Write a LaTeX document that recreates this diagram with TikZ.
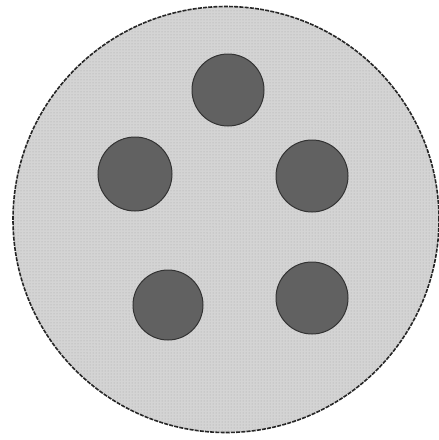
\documentclass[tikz,border=0pt]{standalone}
\usetikzlibrary{patterns}
\begin{document}
\begin{tikzpicture}[x=1pt,y=-1pt,
  plate/.style={circle,inner sep=0pt,minimum size=426pt,fill=black!17,draw=black!85,line width=1.6pt,dash pattern=on 4pt off 1.2pt},
  spot/.style={circle,inner sep=0pt,minimum size=72pt,fill=black!62,draw=black!80,line width=1pt}]
\useasboundingbox (0,0) rectangle (439,440);
\fill[white] (0,0) rectangle (439,440);
\node[plate] (plate) at (226,219.5) {};
\fill[pattern=dots,pattern color=black!35] (plate.center) circle (212pt);
\node[spot] (s1) at (228,90) {};
\node[spot,minimum size=74pt] (s2) at (135,174) {};
\node[spot] (s3) at (312,176) {};
\node[spot,minimum size=70pt] (s4) at (168,305) {};
\node[spot] (s5) at (312,298) {};
\end{tikzpicture}
\end{document}
